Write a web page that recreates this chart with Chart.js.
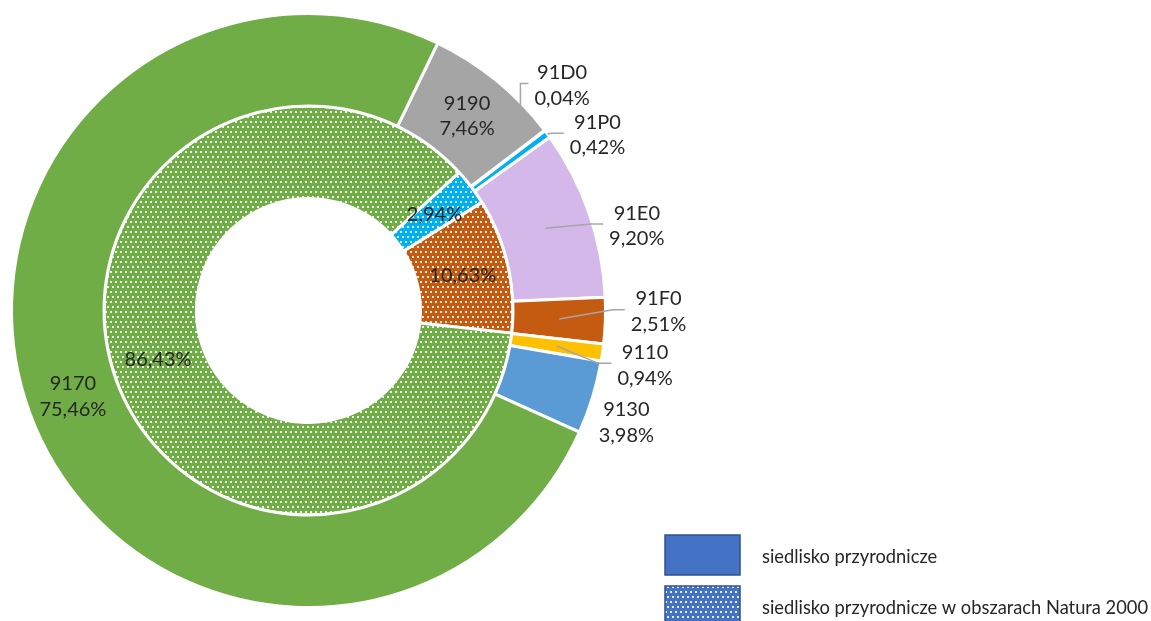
<!DOCTYPE html>
<html><head><meta charset="utf-8">
<script src="https://cdn.jsdelivr.net/npm/chart.js@4.4.1/dist/chart.umd.min.js"></script>
<style>html,body{margin:0;padding:0;background:#fff;overflow:hidden}canvas{display:block}</style>
</head><body>
<canvas id="c" width="1151" height="621"></canvas>
<script>
// ---- data ----
const categories = ['9190', '91D0', '91P0', '91E0', '91F0', '9110', '9130', '9170'];
const habitatShares = [7.46, 0.04, 0.42, 9.20, 2.51, 0.94, 3.98, 75.46];
const naturaCategories = ['91P0', '91F0', '9170'];
const naturaShares = [2.94, 10.63, 86.43];
const seriesNames = ['siedlisko przyrodnicze', 'siedlisko przyrodnicze w obszarach Natura 2000'];

// ---- styles ----
const categoryColors = {'9190':'#A5A5A5','91D0':'#264478','91P0':'#00B0F0','91E0':'#D5B8EA',
  '91F0':'#C55A11','9110':'#FFC000','9130':'#5B9BD5','9170':'#70AD47'};
const legendColor = '#4472C4';
const outsideLabels = {
  '91D0': {dAngle:-4.3, r:339, leader:'drop', tail:8},
  '91P0': {dAngle:5.2,  r:338, leader:'edge', tail:12},
  '91E0': {dAngle:4.7,  r:339, leader:'mid',  tail:12},
  '91F0': {dAngle:-1.75,r:350, leader:'mid',  tail:12},
  '9110': {dAngle:1.1,  r:341, leader:'mid',  tail:13},
  '9130': {dAngle:2.4,  r:337, leader:null}
};
const FONT = '"Lato", "Open Sans", sans-serif';
const TEXT = '#262626';

function dots(color){
  const t = document.createElement('canvas'); t.width = 10; t.height = 10;
  const g = t.getContext('2d');
  g.fillStyle = color; g.fillRect(0,0,10,10);
  g.fillStyle = 'rgba(255,255,255,0.88)';
  [[0,1],[5,1],[2,6],[7,6]].forEach(([x,y]) => g.fillRect(x,y,2,2));
  return g.createPattern(t,'repeat');
}

const labelPlugin = {
  id: 'sliceLabels',
  afterDatasetsDraw(chart){
    const ctx = chart.ctx;
    ctx.save();
    ctx.font = '20px ' + FONT;
    ctx.textAlign = 'center'; ctx.textBaseline = 'middle';
    chart.data.datasets.forEach((ds, di) => {
      const meta = chart.getDatasetMeta(di);
      meta.data.forEach((arc, i) => {
        const p = arc.getProps(['x','y','startAngle','endAngle','innerRadius','outerRadius'], true);
        const mid = (p.startAngle + p.endAngle)/2;
        const name = ds.names[i];
        const pct = ds.data[i].toFixed(2).replace('.', ',') + '%';
        const lines = di === 0 ? [name, pct] : [pct];
        const out = di === 0 ? outsideLabels[name] : null;
        const rm = (p.innerRadius + p.outerRadius)/2;
        let cx, cy;
        if (out){
          const a = mid + out.dAngle*Math.PI/180;
          cx = p.x + out.r*Math.cos(a); cy = p.y + out.r*Math.sin(a);
        } else {
          cx = p.x + rm*Math.cos(mid); cy = p.y + rm*Math.sin(mid);
        }
        if (out && out.leader){
          const w = Math.max(...lines.map(l => ctx.measureText(l).width));
          const endX = cx - w/2 - 6, endY = cy - 2, sX = endX - out.tail;
          let ax, ay;
          if (out.leader === 'mid'){ ax = p.x + rm*Math.cos(mid); ay = p.y + rm*Math.sin(mid); }
          else if (out.leader === 'edge'){ ax = p.x + p.outerRadius*Math.cos(mid); ay = p.y + p.outerRadius*Math.sin(mid); }
          else { ax = sX; ay = p.y - Math.sqrt(Math.max(p.outerRadius*p.outerRadius - (sX-p.x)*(sX-p.x), 0)) + 4; }
          ctx.beginPath();
          ctx.strokeStyle = '#A6A6A6'; ctx.lineWidth = 1.5;
          ctx.moveTo(ax, ay); ctx.lineTo(sX, endY); ctx.lineTo(endX, endY);
          ctx.stroke();
        }
        ctx.fillStyle = TEXT;
        const lh = 25.5;
        lines.forEach((l, k) => ctx.fillText(l, cx, cy + (k - (lines.length-1)/2)*lh));
      });
    });
    ctx.restore();
  }
};

const legendPlugin = {
  id: 'seriesLegend',
  afterDraw(chart){
    const ctx = chart.ctx;
    ctx.save();
    const fills = [legendColor, dots(legendColor)];
    const x = 665, w = 75, h = 40, ys = [535, 586];
    ys.forEach((y, k) => {
      ctx.fillStyle = fills[k]; ctx.fillRect(x, y, w, h);
      ctx.strokeStyle = '#2F528F'; ctx.lineWidth = 1.5; ctx.strokeRect(x, y, w, h);
      ctx.fillStyle = TEXT; ctx.font = '18.3px ' + FONT;
      ctx.textAlign = 'left'; ctx.textBaseline = 'middle';
      ctx.fillText(seriesNames[k], 762, y + h/2 + 2);
    });
    ctx.restore();
  }
};

new Chart(document.getElementById('c'), {
  type: 'doughnut',
  data: {
    labels: categories,
    datasets: [
      {label: seriesNames[0], data: habitatShares, names: categories,
       backgroundColor: categories.map(c => categoryColors[c]),
       borderColor: '#ffffff', borderWidth: 3, rotation: 25.8},
      {label: seriesNames[1], data: naturaShares, names: naturaCategories,
       backgroundColor: naturaCategories.map(c => dots(categoryColors[c])),
       borderColor: '#ffffff', borderWidth: 3, rotation: 47.5}
    ]
  },
  options: {
    responsive: false, animation: false, events: [],
    cutout: '37.7%',
    layout: {padding: {left: 10, right: 544, top: 12, bottom: 12}},
    plugins: {legend: {display: false}, tooltip: {enabled: false}}
  },
  plugins: [labelPlugin, legendPlugin]
});
</script>
</body></html>
